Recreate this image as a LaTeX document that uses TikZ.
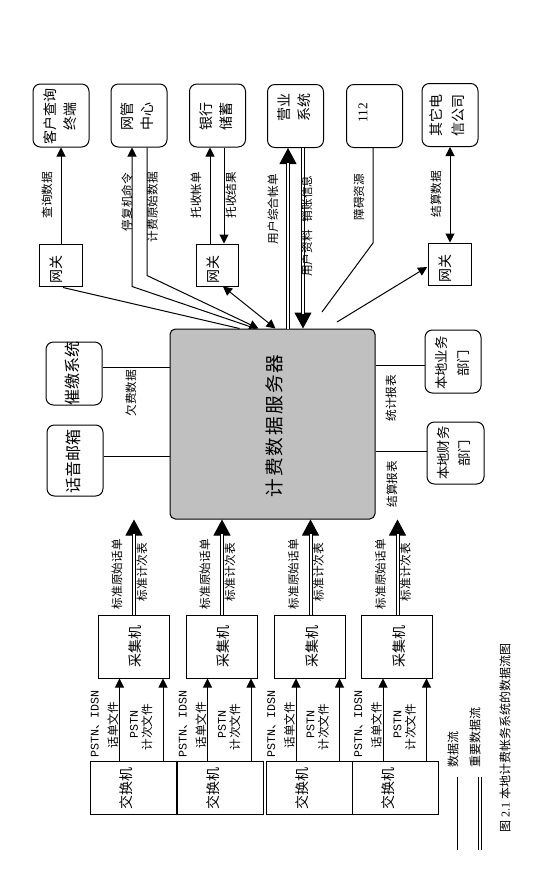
\documentclass[tikz,border=0pt]{standalone}
\usepackage{fontspec}
\setmainfont{Noto Sans CJK SC}
\newfontfamily\monof{Liberation Mono}
\newfontfamily\seriff{Liberation Serif}
\usetikzlibrary{arrows.meta,calc}
\definecolor{srvgray}{RGB}{192,192,192}
\begin{document}
\begin{tikzpicture}[x=0.75pt,y=-0.75pt,line width=0.75pt,
  sm/.tip={Triangle[length=6.75pt,width=6.75pt]},
  bg/.tip={Triangle[length=12pt,width=12.75pt]},
  rbox/.style={draw, rounded corners=5.5pt, inner sep=0pt, minimum width=42pt, minimum height=47.25pt},
  sqbox/.style={draw, inner sep=0pt},
  boxtxt/.style={rotate=90, align=center, inner sep=0pt, font=\fontsize{10.5pt}{15pt}\selectfont},
  bigtxt/.style={rotate=90, align=center, inner sep=0pt, font=\fontsize{12pt}{15pt}\selectfont},
  lbl/.style={rotate=90, inner sep=0pt, font=\fontsize{8.75pt}{10pt}\selectfont},
  dbl/.style={double, double distance=1.5pt}]
\useasboundingbox (0,0) rectangle (537,878);

% ---------- top boxes ----------
\node[rbox] (kh) at (61,115.5) {};
\node[boxtxt] (kht) at (60,116) {客户查询\\终端};
\node[rbox] (wg) at (139,115.5) {};
\node[boxtxt] (wgt) at (137.5,116) {网管\\中心};
\node[rbox] (yh) at (217.5,115.5) {};
\node[boxtxt] (yht) at (216,116) {银行\\储蓄};
\node[rbox] (yy) at (295.5,116) {};
\node[boxtxt] (yyt) at (294,107) {营业\\系统};
\node[rbox] (b112) at (374.5,116) {};
\node[rotate=90, inner sep=0pt, font=\seriff\fontsize{10pt}{12pt}\selectfont] (b112t) at (363,113) {112};
\node[rbox] (qt) at (450,115) {};
\node[boxtxt, font=\fontsize{10.5pt}{17pt}\selectfont] (qtt) at (447,115) {其它电\\信公司};

% ---------- gateways ----------
\node[sqbox, minimum width=32pt, minimum height=31.5pt] (g1) at (61,265) {};
\node[boxtxt] (g1t) at (56,269) {网关};
\node[sqbox, minimum width=32pt, minimum height=31.5pt] (g2) at (217.5,265) {};
\node[boxtxt] (g2t) at (213,269) {网关};
\node[sqbox, minimum width=32pt, minimum height=31.5pt] (g3) at (450,264) {};
\node[boxtxt] (g3t) at (445,268) {网关};

% ---------- server ----------
\node[draw, fill=srvgray, rounded corners=4pt, inner sep=0pt, minimum width=153.75pt, minimum height=142.5pt] (srv) at (272.5,424) {};
\node[rotate=90, inner sep=0pt, font=\fontsize{14pt}{16pt}\selectfont\addfontfeature{LetterSpace=11}] (srvt) at (274,426) {计费数据服务器};

% ---------- side boxes ----------
\node[rbox] (cj) at (74,373.5) {};
\node[bigtxt] (cjt) at (72,373.5) {催缴系统};
\node[rbox, minimum height=53.25pt] (hy) at (75,460.5) {};
\node[bigtxt] (hyt) at (73,461) {话音邮箱};
\node[rbox] (bdyw) at (453,361.5) {};
\node[boxtxt, font=\fontsize{10pt}{17pt}\selectfont] (bdywt) at (452.5,363) {本地业务\\部门};
\node[rbox, minimum width=42.75pt, minimum height=46.5pt] (bdcw) at (455.5,453) {};
\node[boxtxt, font=\fontsize{10pt}{16pt}\selectfont] (bdcwt) at (454,453) {本地财务\\部门};

% ---------- anchor points on the server ----------
\coordinate (a1) at ($(srv.north west)+(70,0)$);
\coordinate (a2) at ($(srv.north west)+(86,0)$);
\coordinate (a3) at ($(srv.north west)+(89,0)$);
\coordinate (a4) at ($(srv.north west)+(106,0)$);
\coordinate (a5) at (322,312);
\coordinate (a6) at (337,322);

% ---------- top connectors ----------
\draw[-sm] (g1.north) -- (kh.south);
\draw ($(g1.south)+(2,1)$) -- (a1);

\coordinate (wgA) at ($(wg.south)+(-7,0)$);
\coordinate (wgAb) at ($(wg.south)+(-7,139)$);
\draw[-sm] (a2) -- (wgAb) -- (wgA);
\coordinate (wgB) at ($(wg.south)+(8,0)$);
\coordinate (wgBb) at ($(wg.south)+(8,128)$);
\draw[-sm] (wgB) -- (wgBb) -- (a3);

\draw[-sm] ($(g2.north)+(-7.5,0)$) -- ($(yh.south)+(-7.5,0)$);
\draw[-sm] ($(yh.south)+(6.5,0)$) -- ($(g2.north)+(6.5,0)$);
\draw[sm-sm] ($(g2.south)+(5.5,0)$) -- (a4);

\coordinate (yyA) at ($(yy.south)+(-7.5,0)$);
\coordinate (yyAs) at (yyA |- srv.north);
\draw[-bg] (yyAs) -- (yyA);
\draw[dbl, shorten >=11pt] (yyAs) -- (yyA);
\coordinate (yyB) at ($(yy.south)+(7.5,0)$);
\coordinate (yyBs) at (yyB |- srv.north);
\draw[-bg] (yyB) -- (yyBs);
\draw[dbl, shorten >=11pt] (yyB) -- (yyBs);

\coordinate (bA) at ($(b112.south)+(-1.5,0)$);
\coordinate (bAb) at ($(b112.south)+(-1.5,95)$);
\draw (bA) -- (bAb) -- (a5);

\draw[sm-sm] (g3.north) -- (qt.south);
\draw[-sm] (a6) -- ($(g3.west)+(-1,3)$);

% top labels
\node[lbl] (l1) at (47,195) {查询数据};
\node[lbl] (l2) at (127,202) {停复机命令};
\node[lbl] (l3) at (152.5,207) {计费原始数据};
\node[lbl] (l4) at (196,195) {托收帐单};
\node[lbl] (l5) at (231,195) {托收结果};
\node[lbl] (l6) at (273,209) {用户综合帐单};
\node[lbl] (l7) at (307,226) {用户资料\hspace{6pt}销账信息};
\node[lbl] (l8) at (359,197) {障碍资源};
\node[lbl] (l9) at (436,194) {结算数据};

% ---------- side connectors ----------
\coordinate (cjE) at ($(cj.east)+(0,-6.5)$);
\draw (cjE) -- (cjE -| srv.west);
\coordinate (hyE) at ($(hy.east)+(0,-4.5)$);
\draw (hyE) -- (hyE -| srv.west);
\coordinate (ywW) at ($(bdyw.west)+(0,3.5)$);
\draw (ywW -| srv.east) -- (ywW);
\coordinate (cwW) at ($(bdcw.west)+(0,-2)$);
\draw (cwW -| srv.east) -- (cwW);
\node[lbl] (l10) at (131,393) {欠费数据};
\node[lbl] (l11) at (391,398) {统计报表};
\node[lbl] (l12) at (392,484) {结算报表};

% ---------- collectors and switches ----------
\foreach \i/\cx/\sx in {1/133.5/133, 2/221.5/220.5, 3/310/309, 4/397/395.5} {
  \node[sqbox, minimum width=53.25pt, minimum height=47.25pt] (col\i) at (\cx,646.5) {};
  \node[boxtxt] (colt\i) at (\cx+2,646.5) {采集机};
  \node[sqbox, minimum width=64.5pt, minimum height=39.75pt] (sw\i) at (\sx,788) {};
  \node[boxtxt] (swt\i) at (\sx-7,788) {交换机};
  \coordinate (ia\i) at ($(col\i.south)+(-14,0)$);
  \coordinate (ib\i) at ($(col\i.south)+(29.5,0)$);
  \draw[-sm] (ia\i |- sw\i.north) -- (ia\i);
  \draw[-sm] (ib\i |- sw\i.north) -- (ib\i);
  \coordinate (up\i) at ($(col\i.north)+(0.5,0)$);
  \coordinate (upe\i) at (up\i |- srv.south);
  \draw[-bg] (up\i) -- (upe\i);
  \draw[dbl, shorten >=11pt] (up\i) -- (upe\i);
  \node[lbl] (ta\i) at (\cx-16.5,574) {标准原始话单};
  \node[lbl] (tb\i) at (\cx+8.5,572) {标准计次表};
  \node[lbl] (pa\i) at (\cx-38.5,724) {{\monof PSTN}、{\monof IDSN}};
  \node[lbl] (pb\i) at (\cx-20.5,725) {话单文件};
  \node[lbl] (pc\i) at (\cx+0.5,724) {\monof PSTN};
  \node[lbl] (pd\i) at (\cx+13.5,727) {计次文件};
}

% ---------- legend and caption ----------
\coordinate (lg1a) at (457,777);
\coordinate (lg1b) at (457,850);
\draw (lg1a) -- (lg1b);
\node[lbl, font=\fontsize{9pt}{10pt}\selectfont] (lg1t) at (453,749) {数据流};
\coordinate (lg2a) at (480,777);
\coordinate (lg2b) at (480,850);
\draw[dbl] (lg2a) -- (lg2b);
\node[lbl, font=\fontsize{9pt}{10pt}\selectfont] (lg2t) at (475,737) {重要数据流};
\node[lbl, font=\fontsize{9pt}{10pt}\selectfont] (cap) at (505,738) {图 {\seriff 2.1} 本地计费帐务系统的数据流图};
\end{tikzpicture}
\end{document}
